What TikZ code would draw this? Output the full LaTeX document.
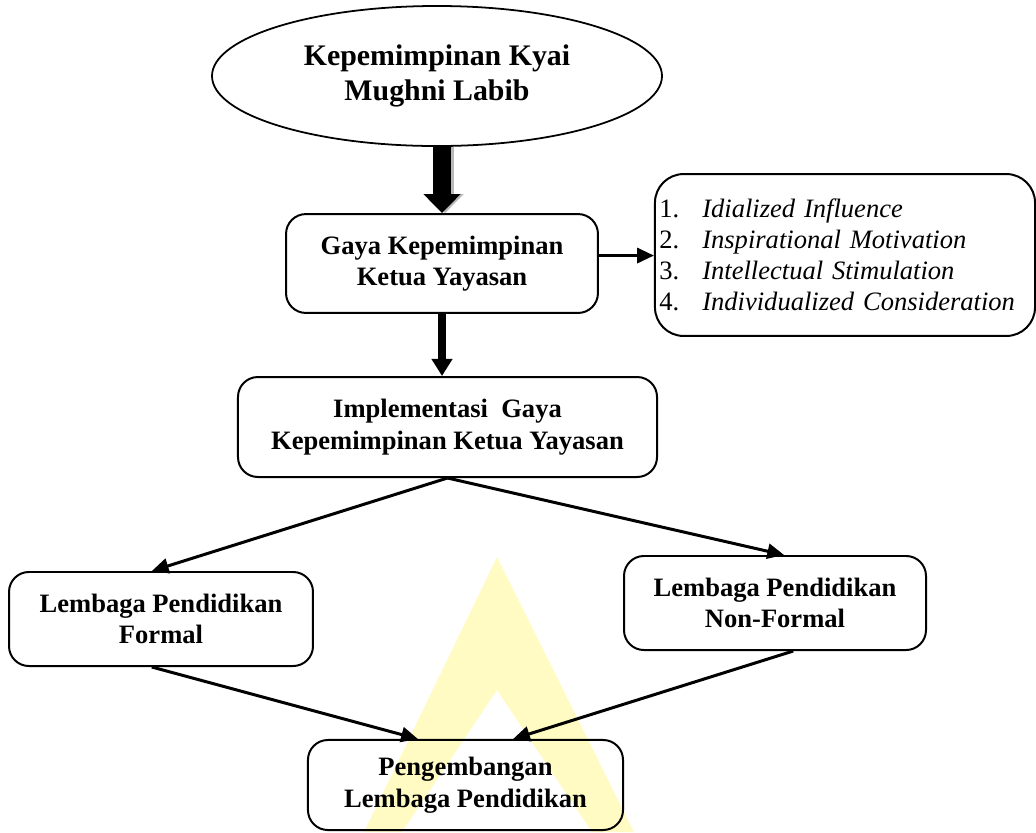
\documentclass[tikz,border=0pt]{standalone}
\usepackage{fontspec}
\setmainfont{Liberation Serif}
\usepackage{tkz-euclide}
\usetikzlibrary{shapes.geometric,arrows.meta,calc}

\definecolor{marca}{RGB}{255,251,195}

\tikzset{
  caja/.style={draw, rounded corners=9pt, line width=0.9pt, align=center,
    inner sep=2pt, font=\bfseries\fontsize{12}{14.2}\selectfont},
  elipse/.style={draw, ellipse, line width=0.8pt, align=center, inner sep=0pt,
    minimum width=203.4pt, minimum height=63.3pt,
    font=\bfseries\fontsize{13.5}{15.8}\selectfont},
  lista/.style={draw, rounded corners=13pt, line width=0.9pt, align=left,
    inner sep=2pt, minimum width=171.8pt, minimum height=73.2pt,
    text width=167.8pt, font=\fontsize{12}{14}\selectfont},
  flecha/.style={line width=1.35pt, -{Triangle[length=7.6pt,width=6.8pt]}},
  media/.style={line width=3.6pt, -{Triangle[length=7.7pt,width=9pt]}},
  gruesa/.style={line width=8.4pt, -{Triangle[length=8.6pt,width=16.3pt]}}
}

\begin{document}
\begin{tikzpicture}[x=0.452pt,y=-0.452pt]
        \useasboundingbox (0,0) rectangle (1036,832);

        % Paso 1: Define los centros de cada figura
        \tkzDefPoint(437,76){K}
        \tkzDefPoint(442,263.5){G}
        \tkzDefPoint(845,255){L}
        \tkzDefPoint(447.5,427){I}
        \tkzDefPoint(161,619){F}
        \tkzDefPoint(775,603){N}
        \tkzDefPoint(465.5,785){P}

        % Paso 2: La marca de agua amarilla (la letra A)
        \fill[marca, even odd rule] (497,557) -- (634,832) -- (364,832) -- cycle
             (497,690) -- (592,832) -- (402,832) -- cycle;

        % Paso 3: Dibuja la elipse y las cajas
        \node[elipse] (kyai) at (K) {Kepemimpinan Kyai\\Mughni Labib};
        \node[caja, minimum width=141pt, minimum height=44.7pt] (gaya) at (G)
             {Gaya Kepemimpinan\\Ketua Yayasan};
        \node[lista] (dimensi) at (L)
             {\makebox[19.4pt][l]{1.}\textit{Idialized Influence}\\
              \makebox[19.4pt][l]{2.}\textit{Inspirational Motivation}\\
              \makebox[19.4pt][l]{3.}\textit{Intellectual Stimulation}\\
              \makebox[19.4pt][l]{4.}\textit{Individualized Consideration}};
        \node[caja, minimum width=189.4pt, minimum height=45.2pt] (impl) at (I)
             {Implementasi\ \ Gaya\\Kepemimpinan Ketua Yayasan};
        \node[caja, minimum width=137.4pt, minimum height=42.5pt] (formal) at (F)
             {Lembaga Pendidikan\\Formal};
        \node[caja, minimum width=136.5pt, minimum height=42.5pt] (nonformal) at (N)
             {Lembaga Pendidikan\\Non-Formal};
        \node[caja, minimum width=142.4pt, minimum height=40.7pt] (peng) at (P)
             {Pengembangan\\Lembaga Pendidikan};

        % Paso 4: Flecha gruesa con sombra gris
        \draw[gruesa, gray!55, transform canvas={xshift=1.4pt}]
             (kyai.south -| gaya.north) -- (gaya.north);
        \draw[gruesa] (kyai.south -| gaya.north) -- (gaya.north);

        % Paso 5: Las demas flechas
        \coordinate (g1) at ([yshift=3.6pt]gaya.east);
        \draw[flecha] (g1) -- (g1 -| dimensi.west);
        \draw[media] (gaya.south) -- (gaya.south |- impl.north);
        \draw[flecha] (impl.south) -- ($(formal.north west)!0.47!(formal.north east)$);
        \draw[flecha] (impl.south) -- ($(nonformal.north west)!0.53!(nonformal.north east)$);
        \draw[flecha] ($(formal.south west)!0.47!(formal.south east)$)
             -- ($(peng.north west)!0.35!(peng.north east)$);
        \draw[flecha] ($(nonformal.south west)!0.56!(nonformal.south east)$)
             -- ($(peng.north west)!0.65!(peng.north east)$);
    \end{tikzpicture}
\end{document}
